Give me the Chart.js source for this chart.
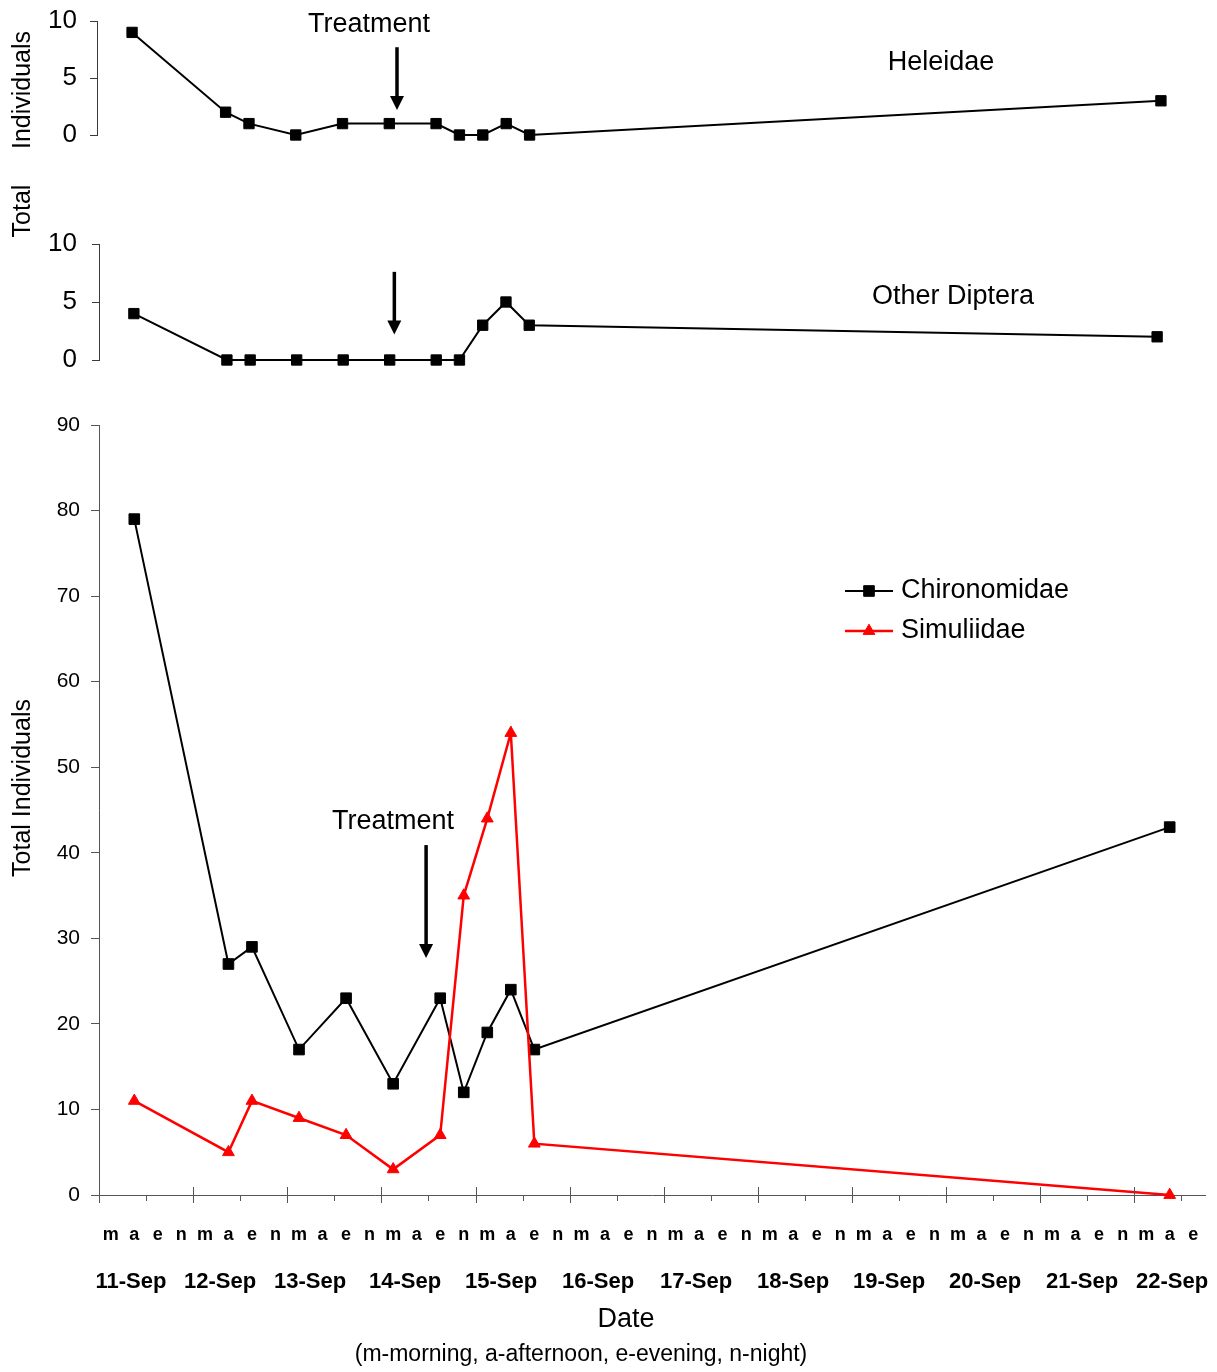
<!DOCTYPE html>
<html>
<head>
<meta charset="utf-8">
<title>Diptera drift counts, 11–22 September</title>
<script src="https://cdn.jsdelivr.net/npm/chart.js@4/dist/chart.umd.min.js"></script>
<style>
  html, body { margin: 0; padding: 0; background: #fff; }
  #wrap { position: relative; width: 1217px; height: 1372px; overflow: hidden; }
  #wrap canvas { position: absolute; left: 0; }
</style>
</head>
<body>
<div id="wrap">
  <canvas id="heleidaeChart" width="1217" height="270" style="top:-20px"></canvas>
  <canvas id="otherChart" width="1217" height="230" style="top:170px"></canvas>
  <canvas id="mainChart" width="1217" height="992" style="top:380px"></canvas>
</div>
<script>
// ---- sampling calendar -------------------------------------------------
const periods = ['m', 'a', 'e', 'n'];
const days = ['11-Sep', '12-Sep', '13-Sep', '14-Sep', '15-Sep', '16-Sep',
              '17-Sep', '18-Sep', '19-Sep', '20-Sep', '21-Sep', '22-Sep'];
const periodsOnLastDay = 3;

// ---- samples: day + period of each collection --------------------------
const sampleTimes = ['11-Sep a', '12-Sep a', '12-Sep e', '13-Sep m', '13-Sep e', '14-Sep m',
                     '14-Sep e', '14-Sep n', '15-Sep m', '15-Sep a', '15-Sep e', '22-Sep a'];

// ---- counts (total individuals) ----------------------------------------
const heleidae     = [9, 2, 1, 0, 1, 1, 1, 0, 0, 1, 0, 3];
const otherDiptera = [4, 0, 0, 0, 0, 0, 0, 0, 3, 5, 3, 2];
const chironomidae = [79, 27, 29, 17, 23, 13, 23, 12, 19, 24, 17, 43];
const simuliidae   = [11, 5, 11, 9, 7, 3, 7, 35, 44, 54, 6, 0];

// ---- axis ticks --------------------------------------------------------
const smallPanelTicks = [0, 5, 10];
const mainPanelTicks  = [0, 10, 20, 30, 40, 50, 60, 70, 80, 90];

// category list: one slot per day-period
const slots = [];
days.forEach((d, i) => {
  const n = i === days.length - 1 ? periodsOnLastDay : periods.length;
  for (let k = 0; k < n; k++) slots.push(d + ' ' + periods[k]);
});
const toPoints = values => sampleTimes.map((t, i) => ({ x: t, y: values[i] }));

// ---- drawing helpers ---------------------------------------------------
const FONT = "'Liberation Sans', Arial, Helvetica, sans-serif";
Chart.defaults.font.family = FONT;
Chart.defaults.color = '#000';

function slotPixel(scale, s) {
  const i = Math.floor(s);
  const step = scale.getPixelForValue(1) - scale.getPixelForValue(0);
  return scale.getPixelForValue(i) + (s - i) * step;
}
function drawArrow(ctx, x, yTop, yTip) {
  ctx.save();
  ctx.strokeStyle = '#000';
  ctx.fillStyle = '#000';
  ctx.lineWidth = 3.5;
  ctx.beginPath();
  ctx.moveTo(x, yTop);
  ctx.lineTo(x, yTip - 11);
  ctx.stroke();
  ctx.beginPath();
  ctx.moveTo(x - 7, yTip - 14);
  ctx.lineTo(x + 7, yTip - 14);
  ctx.lineTo(x, yTip);
  ctx.closePath();
  ctx.fill();
  ctx.restore();
}
function text(ctx, str, x, y, font, align) {
  ctx.save();
  ctx.font = font;
  ctx.fillStyle = '#000';
  ctx.textAlign = align || 'center';
  ctx.textBaseline = 'middle';
  ctx.fillText(str, x, y);
  ctx.restore();
}
function vtext(ctx, str, x, y, font) {
  ctx.save();
  ctx.translate(x, y);
  ctx.rotate(-Math.PI / 2);
  text(ctx, str, 0, 0, font);
  ctx.restore();
}

function smallPanel(canvasId, label, values, pad, axisLeft, tickPadding, decor) {
  return new Chart(document.getElementById(canvasId), {
    type: 'line',
    data: {
      labels: slots,
      datasets: [{
        label: label,
        data: toPoints(values),
        borderColor: '#000',
        backgroundColor: '#000',
        borderWidth: 2,
        pointStyle: 'rect',
        pointRadius: 7.3,
        pointHoverRadius: 7.3,
        pointBorderWidth: 1,
        tension: 0,
        clip: false
      }]
    },
    options: {
      responsive: false,
      animation: false,
      events: [],
      layout: { padding: pad },
      plugins: { legend: { display: false }, tooltip: { enabled: false } },
      scales: {
        x: { type: 'category', offset: true, display: false },
        y: {
          min: 0, max: 10,
          afterFit(s) { s.width = axisLeft; },
          afterBuildTicks(s) { s.ticks = smallPanelTicks.map(v => ({ value: v })); },
          ticks: { font: { size: 26 }, color: '#000', padding: tickPadding },
          grid: { drawOnChartArea: false, tickLength: 7, color: '#3a3a3a', lineWidth: 1 },
          border: { color: '#3a3a3a', width: 1 }
        }
      }
    },
    plugins: [decor]
  });
}

// ---- Heleidae panel (canvas starts 20px above the page) ---------------
smallPanel('heleidaeChart', 'Heleidae', heleidae,
  { left: 0, top: 41, right: 21, bottom: 115 }, 97, 13, {
    id: 'heleidaeDecor',
    afterDraw(chart) {
      const { ctx, scales: { x, y } } = chart;
      const ax = slotPixel(x, 12.33);
      drawArrow(ctx, ax, y.getPixelForValue(7.7), y.getPixelForValue(2.2));
      text(ctx, 'Treatment', ax - 28, 45, '27px ' + FONT);
      text(ctx, 'Heleidae', 941, 83, '27px ' + FONT);
      // shared axis title for the two small panels
      vtext(ctx, 'Individuals', 23, 110, '25px ' + FONT);
      vtext(ctx, 'Total', 23, 231, '25px ' + FONT);
    }
  });

// ---- Other Diptera panel (canvas starts at 170px) ---------------------
smallPanel('otherChart', 'Other Diptera', otherDiptera,
  { left: 0, top: 74, right: 25, bottom: 40 }, 99, 15, {
    id: 'otherDecor',
    afterDraw(chart) {
      const { ctx, scales: { x, y } } = chart;
      drawArrow(ctx, slotPixel(x, 12.2), y.getPixelForValue(7.6), y.getPixelForValue(2.2));
      text(ctx, 'Other Diptera', 953, 127, '27px ' + FONT);
    }
  });

// ---- Chironomidae / Simuliidae panel -----------------------------------
const mainDecor = {
  id: 'mainDecor',
  afterDraw(chart) {
    const { ctx, chartArea, scales: { x, y } } = chart;
    const base = chartArea.bottom;
    const step = x.getPixelForValue(1) - x.getPixelForValue(0);

    // tick marks: long ones at day boundaries, short ones at mid-day
    ctx.save();
    ctx.strokeStyle = '#555';
    ctx.lineWidth = 1;
    for (let i = 0; i < slots.length; i++) {
      const px = Math.round(x.getPixelForValue(i) - step / 2) + 0.5;
      ctx.beginPath();
      if (i % 4 === 0) { ctx.moveTo(px, base - 8); ctx.lineTo(px, base + 8); }
      else if (i % 2 === 0) { ctx.moveTo(px, base); ctx.lineTo(px, base + 6); }
      else continue;
      ctx.stroke();
    }
    ctx.restore();

    // day names row
    const dateCentres = [131, 220, 310, 405, 501, 598, 696, 793, 889, 985, 1082, 1172];
    days.forEach((d, i) => text(ctx, d, dateCentres[i], 902, 'bold 22px ' + FONT));
    text(ctx, 'Date', 626, 940, '27px ' + FONT);
    text(ctx, '(m-morning, a-afternoon, e-evening, n-night)', 581, 975, '23px ' + FONT);

    // y title
    vtext(ctx, 'Total Individuals', 23, 408, '25px ' + FONT);

    // treatment marker
    const ax = slotPixel(x, 13.4);
    drawArrow(ctx, ax, y.getPixelForValue(40.9), y.getPixelForValue(27.7));
    text(ctx, 'Treatment', ax - 33, 442, '27px ' + FONT);

    // legend
    chart.data.datasets.forEach((ds, i) => {
      const ly = 211 + i * 40;
      ctx.save();
      ctx.strokeStyle = ds.borderColor;
      ctx.fillStyle = ds.backgroundColor;
      ctx.lineWidth = ds.borderWidth;
      ctx.beginPath();
      ctx.moveTo(845, ly);
      ctx.lineTo(893, ly);
      ctx.stroke();
      ctx.lineWidth = ds.pointBorderWidth;
      Chart.helpers.drawPoint(ctx, { pointStyle: ds.pointStyle, radius: ds.pointRadius, borderWidth: ds.pointBorderWidth, rotation: 0 }, 869, ly);
      ctx.restore();
      text(ctx, ds.label, 901, ly, '27px ' + FONT, 'left');
    });
  }
};

new Chart(document.getElementById('mainChart'), {
  type: 'line',
  data: {
    labels: slots,
    datasets: [{
      label: 'Chironomidae',
      data: toPoints(chironomidae),
      borderColor: '#000',
      backgroundColor: '#000',
      borderWidth: 2,
      pointStyle: 'rect',
      pointRadius: 7.5,
      pointHoverRadius: 7.5,
      pointBorderWidth: 1,
      tension: 0,
      clip: false,
      order: 1
    }, {
      label: 'Simuliidae',
      data: toPoints(simuliidae),
      borderColor: '#ff0000',
      backgroundColor: '#ff0000',
      borderWidth: 2.5,
      pointStyle: 'triangle',
      pointRadius: 6.8,
      pointHoverRadius: 6.8,
      pointBorderWidth: 1,
      tension: 0,
      clip: false,
      order: 0
    }]
  },
  options: {
    responsive: false,
    animation: false,
    events: [],
    layout: { padding: { left: 0, top: 45, right: 12, bottom: 0 } },
    plugins: { legend: { display: false }, tooltip: { enabled: false } },
    scales: {
      x: {
        type: 'category',
        offset: true,
        afterFit(s) { s.height = 177; },
        // labels pushed down by the (undrawn) tick length
        grid: { display: false, drawTicks: true, tickLength: 29 },
        border: { display: true, color: '#555', width: 1 },
        ticks: {
          autoSkip: false,
          maxRotation: 0,
          padding: 0,
          font: { size: 18, weight: 'bold' },
          color: '#000',
          callback(v) { return this.getLabelForValue(v).split(' ')[1]; }
        }
      },
      y: {
        min: 0, max: 90,
        afterFit(s) { s.width = 99; },
        afterBuildTicks(s) { s.ticks = mainPanelTicks.map(v => ({ value: v })); },
        ticks: { font: { size: 21 }, color: '#000', padding: 11 },
        grid: { drawOnChartArea: false, tickLength: 8, color: '#555', lineWidth: 1 },
        border: { color: '#555', width: 1 }
      }
    }
  },
  plugins: [mainDecor]
});
</script>
</body>
</html>
